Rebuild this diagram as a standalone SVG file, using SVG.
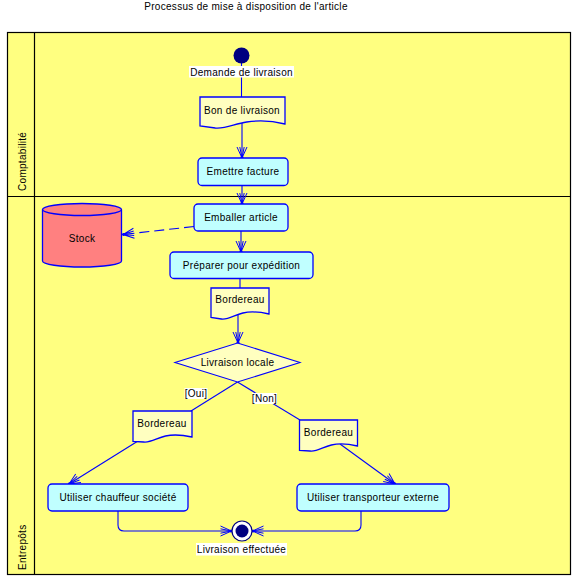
<svg xmlns="http://www.w3.org/2000/svg" width="574" height="579" viewBox="0 0 574 579">
<defs>
<style>
text{font-family:"Liberation Sans",Arial,sans-serif;font-size:10px;fill:#000;letter-spacing:0.3px}
.c{text-anchor:middle}
.lane{fill:#FFFF80;stroke:#000;stroke-width:1.2}
.act{fill:#C0FFFF;stroke:#0000FF;stroke-width:1.3}
.doc{fill:#FFFFC0;stroke:#0000FF;stroke-width:1.3}
.ln{fill:none;stroke:#0000FF;stroke-width:1.1}
.lbl{fill:#FFFFFF}
</style>
<marker id="arr" markerUnits="userSpaceOnUse" viewBox="-13 -7 15 14" refX="0" refY="0" markerWidth="15" markerHeight="14" orient="auto">
<path d="M-11,-5 L0,0 L-11,5 M-11,-2.2 L0,0 L-11,2.2" fill="none" stroke="#0000FF" stroke-width="1"/>
<circle cx="-0.5" cy="0" r="1.5" fill="#0000FF"/>
</marker>
</defs>
<rect width="574" height="579" fill="#FFFFFF"/>
<text x="246" y="10" class="c">Processus de mise à disposition de l'article</text>
<g id="lanes">
<rect class="lane" x="7.5" y="32.5" width="563" height="542"/>
<line x1="34.5" y1="32.5" x2="34.5" y2="574.5" stroke="#000" stroke-width="1.2"/>
<line x1="7.5" y1="196.5" x2="570.5" y2="196.5" stroke="#000" stroke-width="1.2"/>
<text transform="translate(26,191) rotate(-90)">Comptabilité</text>
<text transform="translate(26,570) rotate(-90)">Entrepôts</text>
</g>
<g id="connectors">
<line class="ln" x1="241.5" y1="63" x2="241.5" y2="97"/>
<line class="ln" x1="242" y1="122" x2="242" y2="158" marker-end="url(#arr)"/>
<line class="ln" x1="242" y1="185" x2="242" y2="204" marker-end="url(#arr)"/>
<polyline class="ln" points="194,226.5 123,234.5" stroke-dasharray="10,5" marker-end="url(#arr)"/>
<line class="ln" x1="241" y1="231" x2="241" y2="252" marker-end="url(#arr)"/>
<line class="ln" x1="240" y1="278" x2="240" y2="288"/>
<line class="ln" x1="238" y1="314" x2="238" y2="343" marker-end="url(#arr)"/>
<line class="ln" x1="237.5" y1="382" x2="191" y2="411"/>
<line class="ln" x1="237.5" y1="382" x2="300" y2="420"/>
<line class="ln" x1="138" y1="441" x2="69" y2="484" marker-end="url(#arr)"/>
<line class="ln" x1="340" y1="444" x2="395" y2="484" marker-end="url(#arr)"/>
<path class="ln" d="M118,511 V525 Q118,531 124,531 H231.5" marker-end="url(#arr)"/>
<path class="ln" d="M361,511 V525 Q361,531 355,531 H252.5" marker-end="url(#arr)"/>
<rect class="lbl" x="184.5" y="388" width="23" height="11"/>
<text x="196" y="397" class="c">[Oui]</text>
<rect class="lbl" x="252" y="393" width="25" height="11"/>
<text x="264.5" y="402" class="c">[Non]</text>
</g>
<g id="start">
<circle cx="241.5" cy="55.5" r="8" fill="#000080"/>
<rect class="lbl" x="189" y="66" width="105" height="11.5"/>
<text x="241.5" y="75.5" class="c">Demande de livraison</text>
</g>
<g id="bon-livraison">
<path class="doc" d="M200,97 H285 V124 C273,121 259.5,120 246.8,122 C234,124 225.5,129 215.3,128 L200,126 Z"/>
<text x="242" y="113.5" class="c">Bon de livraison</text>
</g>
<g id="emettre-facture">
<rect class="act" x="198" y="158" width="90" height="27.5" rx="4"/>
<text x="243" y="175" class="c">Emettre facture</text>
</g>
<g id="emballer-article">
<rect class="act" x="194" y="204" width="94" height="27" rx="4"/>
<text x="241" y="220.5" class="c">Emballer article</text>
</g>
<g id="stock">
<path d="M42.5,209.5 V261 A39.5,6 0 0 0 121.5,261 V209.5" fill="#FF8080" stroke="#0000FF" stroke-width="1.3"/>
<ellipse cx="82" cy="209.5" rx="39.5" ry="6" fill="#FF8080" stroke="#0000FF" stroke-width="1.3"/>
<text x="82" y="241.5" class="c">Stock</text>
</g>
<g id="preparer">
<rect class="act" x="170" y="252" width="143" height="26.5" rx="4"/>
<text x="241.5" y="268.5" class="c">Préparer pour expédition</text>
</g>
<g id="bordereau-1">
<path class="doc" d="M211,288 H269 V314 C260.3,312 251.6,311 242.9,313 C234.2,315 228.4,320 221.4,319 L211,317.5 Z"/>
<text x="240" y="303" class="c">Bordereau</text>
</g>
<g id="livraison-locale">
<polygon points="237.5,343 300,362.5 237.5,382 175,362.5" fill="#FFFFC0" stroke="#0000FF" stroke-width="1.1"/>
<text x="237.5" y="366" class="c">Livraison locale</text>
</g>
<g id="bordereau-oui">
<path class="doc" d="M133,411 H192 V437 C183,435 174.5,434 165.5,436 C156.6,438 150.7,443 143.6,442 L133,441.5 Z"/>
<text x="162" y="426.5" class="c">Bordereau</text>
</g>
<g id="bordereau-non">
<path class="doc" d="M299.5,420 H357.5 V446 C348.8,444 340,443 331.4,445 C322.7,447 316.9,452 309.9,451 L299.5,450.5 Z"/>
<text x="328.5" y="436" class="c">Bordereau</text>
</g>
<g id="chauffeur">
<rect class="act" x="48" y="484" width="140" height="27" rx="4"/>
<text x="118" y="500.5" class="c">Utiliser chauffeur société</text>
</g>
<g id="transporteur">
<rect class="act" x="297" y="484" width="152" height="27" rx="4"/>
<text x="373" y="500.5" class="c">Utiliser transporteur externe</text>
</g>
<g id="end">
<circle cx="242" cy="531" r="10" fill="#FFFFFF" stroke="#000080" stroke-width="1.2"/>
<circle cx="242" cy="531" r="6.5" fill="#000080"/>
<rect class="lbl" x="196" y="543" width="91" height="12.5"/>
<text x="241.5" y="553" class="c">Livraison effectuée</text>
</g>
</svg>
